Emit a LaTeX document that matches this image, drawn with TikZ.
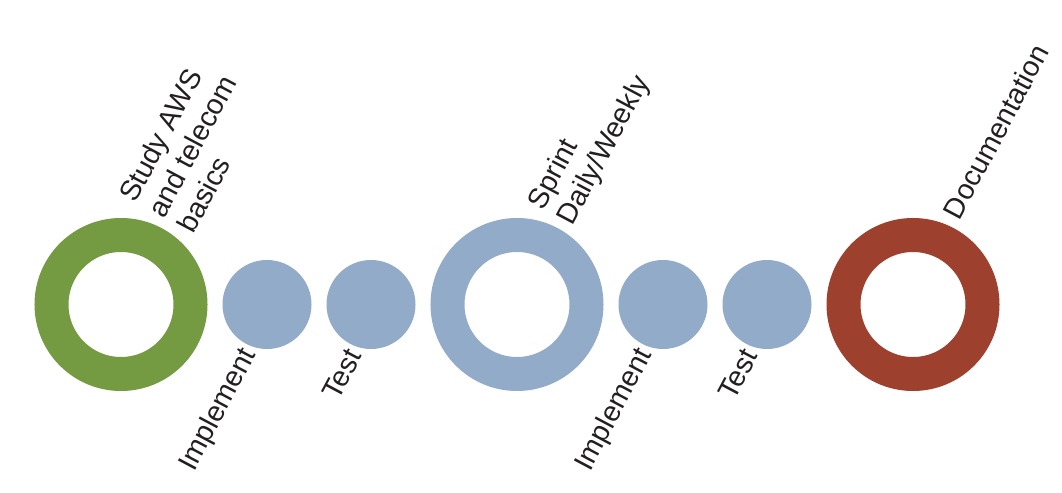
\documentclass[tikz,border=0pt]{standalone}
\usepackage{fontspec}
\setmainfont{Liberation Sans}
\usetikzlibrary{positioning}
\definecolor{ringgreen}{RGB}{116,154,66}
\definecolor{stepblue}{RGB}{146,171,201}
\definecolor{ringred}{RGB}{157,64,46}
\definecolor{lbltext}{RGB}{35,31,32}
\tikzset{node distance=0.375cm,
  ring/.style={circle, draw=#1, line width=0.85cm, minimum size=3.475cm, inner sep=0pt, outer sep=0.425cm},
  dot/.style={circle, fill=stepblue, minimum size=2.225cm, inner sep=0pt, outer sep=0pt},
  lbl/.style={rotate=62, inner sep=0pt, text=lbltext, align=left, font=\fontsize{20.3}{23.5}\selectfont},
  uplbl/.style={lbl, anchor=west},
  lowlbl/.style={lbl, anchor=east}}

\begin{document}
\begin{tikzpicture}
  \useasboundingbox (0,0) rectangle (26.55,12.325);

  \node[ring=ringgreen] (study) at (3.025,4.7125) {};
  \node[dot] (impl1) [right=of study] {};
  \node[dot] (test1) [right=of impl1] {};
  \node[ring=stepblue] (sprint) [right=of test1] {};
  \node[dot] (impl2) [right=of sprint] {};
  \node[dot] (test2) [right=of impl2] {};
  \node[ring=ringred] (doc) [right=of test2] {};

  \node[uplbl] (studyL) at ([shift={(0.86,2.24)}]study.center) {Study AWS\\and telecom\\basics};
  \node[uplbl] (sprintL) at ([shift={(0.86,2.22)}]sprint.center) {Sprint\\Daily/Weekly};
  \node[uplbl] (docL) at ([shift={(0.94,2.2)}]doc.center) {Documentation};

  \node[lowlbl] (impl1L) at ([shift={(-0.42,-1.16)}]impl1.center) {Implement};
  \node[lowlbl] (test1L) at ([shift={(-0.42,-1.16)}]test1.center) {Test};
  \node[lowlbl] (impl2L) at ([shift={(-0.42,-1.16)}]impl2.center) {Implement};
  \node[lowlbl] (test2L) at ([shift={(-0.42,-1.16)}]test2.center) {Test};
\end{tikzpicture}
\end{document}
